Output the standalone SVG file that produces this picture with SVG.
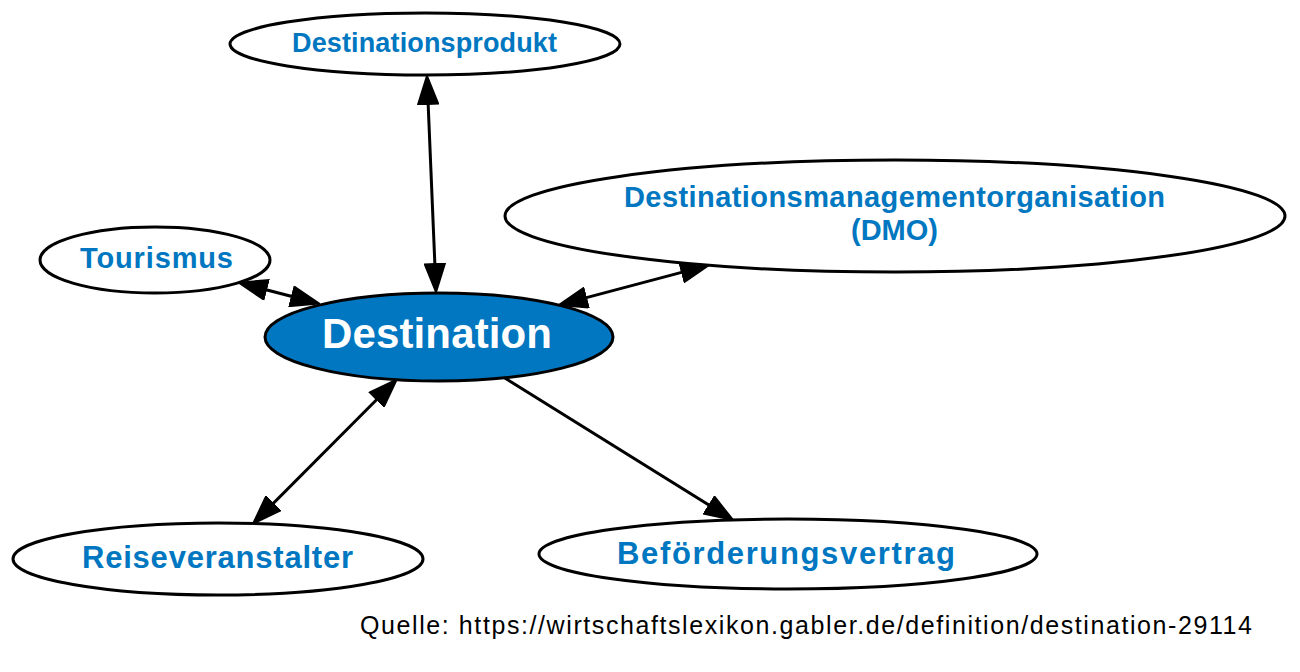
<svg xmlns="http://www.w3.org/2000/svg" width="1300" height="672" viewBox="0 0 1300 672">
<style>
.node ellipse{fill:#ffffff;stroke:#000000;stroke-width:3}
.node.main ellipse{fill:#0077c0}
.lbl{font-family:"Liberation Sans",Arial,sans-serif;font-weight:bold;fill:#0077c0;text-anchor:middle}
.main .lbl{fill:#ffffff}
.edge{stroke:#000000;stroke-width:3;fill:none}
.src{font-family:"Liberation Sans",Arial,sans-serif;font-size:25px;fill:#000000}
</style>
<defs>
<marker id="ah" markerUnits="userSpaceOnUse" markerWidth="30" markerHeight="22" viewBox="0 0 30 22" refX="21" refY="11" orient="auto-start-reverse">
<path d="M1,1 L29,11 L1,21 Z" fill="#000000" stroke="#000000" stroke-width="2" stroke-linejoin="miter"/>
</marker>
</defs>
<rect width="1300" height="672" fill="#ffffff"/>
<g id="connectors">
<line class="edge" x1="427.3" y1="84" x2="435.7" y2="284" marker-start="url(#ah)" marker-end="url(#ah)"/>
<line class="edge" x1="246.7" y1="284.7" x2="311.3" y2="301.5" marker-start="url(#ah)" marker-end="url(#ah)"/>
<line class="edge" x1="701.3" y1="267.1" x2="566.7" y2="302.9" marker-start="url(#ah)" marker-end="url(#ah)"/>
<line class="edge" x1="391" y1="385.3" x2="258.9" y2="517.8" marker-start="url(#ah)" marker-end="url(#ah)"/>
<line class="edge" x1="504.5" y1="377.8" x2="726.2" y2="515.8" marker-end="url(#ah)"/>
</g>
<g id="node-destinationsprodukt" class="node">
<ellipse cx="425" cy="44" rx="195" ry="31"/>
<text class="lbl" x="424.5" y="52" font-size="27" textLength="265" lengthAdjust="spacing">Destinationsprodukt</text>
</g>
<g id="node-dmo" class="node">
<ellipse cx="895" cy="216" rx="390" ry="56"/>
<text class="lbl" x="894.5" y="207" font-size="29" textLength="541" lengthAdjust="spacing">Destinationsmanagementorganisation</text>
<text class="lbl" x="894.5" y="240" font-size="29" textLength="87" lengthAdjust="spacing">(DMO)</text>
</g>
<g id="node-tourismus" class="node">
<ellipse cx="155" cy="260" rx="115" ry="33"/>
<text class="lbl" x="156.5" y="268" font-size="29" textLength="153" lengthAdjust="spacing">Tourismus</text>
</g>
<g id="node-destination" class="node main">
<ellipse cx="439" cy="337" rx="174" ry="44"/>
<text class="lbl" x="437" y="348" font-size="42" textLength="230" lengthAdjust="spacing">Destination</text>
</g>
<g id="node-reiseveranstalter" class="node">
<ellipse cx="218" cy="559" rx="205" ry="36"/>
<text class="lbl" x="217.5" y="568" font-size="31" textLength="271" lengthAdjust="spacing">Reiseveranstalter</text>
</g>
<g id="node-befoerderungsvertrag" class="node">
<ellipse cx="788" cy="554" rx="249" ry="35"/>
<text class="lbl" x="786" y="564" font-size="31" textLength="338" lengthAdjust="spacing">Beförderungsvertrag</text>
</g>
<text class="src" x="360" y="634" textLength="892" lengthAdjust="spacing">Quelle: https://wirtschaftslexikon.gabler.de/definition/destination-29114</text>
</svg>
